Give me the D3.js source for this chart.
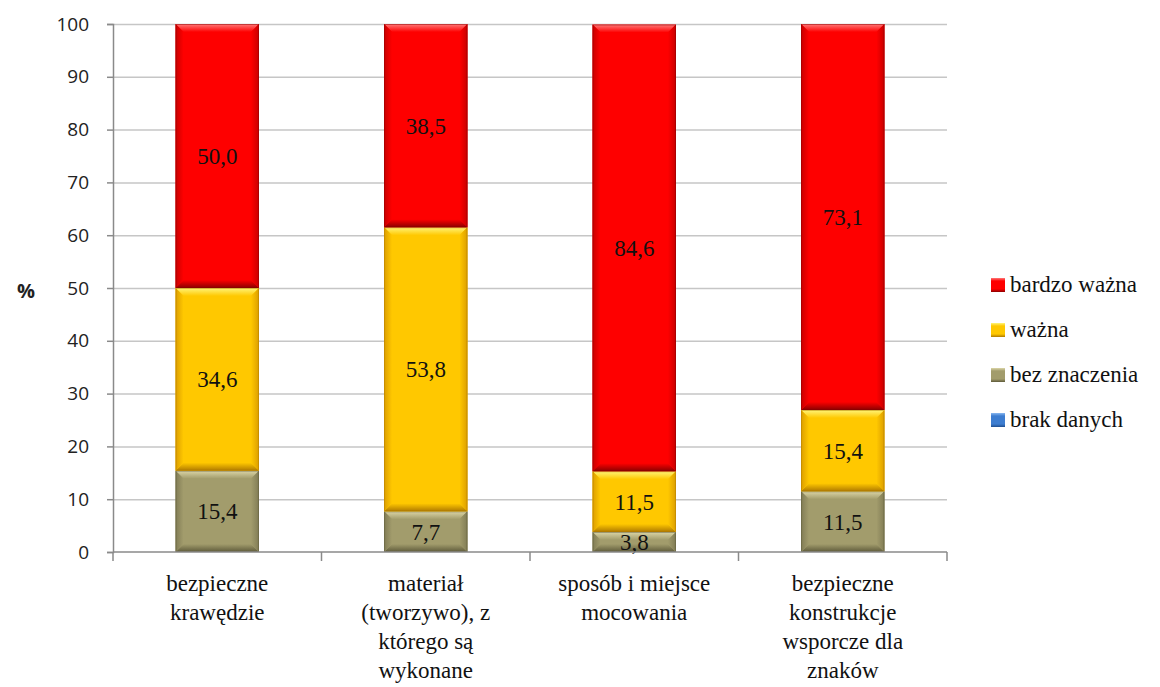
<!DOCTYPE html>
<html>
<head>
<meta charset="utf-8">
<script src="https://cdn.jsdelivr.net/npm/d3@7/dist/d3.min.js"></script>
<style>
  html, body { margin: 0; padding: 0; background: #fff; }
  svg { display: block; }
</style>
</head>
<body>
<svg id="chart" width="1160" height="687"></svg>
<script>
// Categories (label lines) and series values, in %
const categoryLines = [
  ["bezpieczne", "krawędzie"],
  ["materiał", "(tworzywo), z", "którego są", "wykonane"],
  ["sposób i miejsce", "mocowania"],
  ["bezpieczne", "konstrukcje", "wsporcze dla", "znaków"]
];
const seriesNames = ["brak danych", "bez znaczenia", "ważna", "bardzo ważna"];
const brakDanych   = [0, 0, 0, 0];
const bezZnaczenia = [15.4, 7.7, 3.8, 11.5];
const wazna        = [34.6, 53.8, 11.5, 15.4];
const bardzoWazna  = [50.0, 38.5, 84.6, 73.1];
const yTicks = [0, 10, 20, 30, 40, 50, 60, 70, 80, 90, 100];
const legendOrder = ["bardzo ważna", "ważna", "bez znaczenia", "brak danych"];

const seriesValues = [brakDanych, bezZnaczenia, wazna, bardzoWazna];

const SERIF = "'Liberation Serif', 'Times New Roman', serif";
const SANS = "'Open Sans', 'Liberation Sans', sans-serif";

// Colour sets: base, highlight (top bevel), shade (bottom bevel), side bevel
const palette = {
  "bardzo ważna":  { base: "#fe0000", top: "#ff7a7a", bottom: "#8a0000", side: "#c80000" },
  "ważna":         { base: "#ffc800", top: "#fff57a", bottom: "#b07a00", side: "#dc9e00" },
  "bez znaczenia": { base: "#a29c6c", top: "#dcd6a8", bottom: "#5e5a3a", side: "#817c55" },
  "brak danych":   { base: "#3d7dd0", top: "#8ab8f0", bottom: "#1f4f90", side: "#2e64ac" }
};

const svg = d3.select("#chart");
const margin = { left: 113, right: 213, top: 24, bottom: 135 };
const W = 1160, H = 687;
const x0 = margin.left, x1 = W - margin.right, yTop = margin.top, yBot = H - margin.bottom;

const x = d3.scaleBand().domain(d3.range(categoryLines.length)).range([x0, x1]).paddingInner(0.6).paddingOuter(0.3);
const xBand = d3.scaleBand().domain(d3.range(categoryLines.length)).range([x0, x1]);
const y = d3.scaleLinear().domain([0, 100]).range([yBot, yTop]);

// gradients for the bevel edges
const defs = svg.append("defs");
Object.entries(palette).forEach(([name, c], i) => {
  const mk = (id, x1g, y1g, x2g, y2g, from, to) => {
    const g = defs.append("linearGradient").attr("id", id)
      .attr("x1", x1g).attr("y1", y1g).attr("x2", x2g).attr("y2", y2g);
    g.append("stop").attr("offset", "0%").attr("stop-color", from);
    g.append("stop").attr("offset", "100%").attr("stop-color", to);
  };
  mk("gT" + i, 0, 0, 0, 1, c.top, c.base);
  mk("gB" + i, 0, 1, 0, 0, c.bottom, c.base);
  mk("gL" + i, 0, 0, 1, 0, c.side, c.base);
  mk("gR" + i, 1, 0, 0, 0, c.side, c.base);
});
const colorIndex = name => Object.keys(palette).indexOf(name);

// gridlines
svg.append("g").selectAll("line").data(yTicks.filter(t => t > 0)).join("line")
  .attr("x1", x0).attr("x2", x1)
  .attr("y1", d => y(d) + 0.5).attr("y2", d => y(d) + 0.5)
  .attr("stroke", "#c6c6c6").attr("stroke-width", 1.5);

// stacked bars
const table = categoryLines.map((_, i) => {
  const row = {};
  seriesNames.forEach((s, k) => row[s] = seriesValues[k][i]);
  return row;
});
const stack = d3.stack().keys(seriesNames)(table);

const barsG = svg.append("g");
const labelsG = svg.append("g");
stack.forEach(layer => {
  const name = layer.key;
  const ci = colorIndex(name);
  const c = palette[name];
  layer.forEach((seg, i) => {
    const v = seg[1] - seg[0];
    if (v <= 0) return;
    const bx = x(i), bw = x.bandwidth();
    const by = y(seg[1]), bh = y(seg[0]) - y(seg[1]);
    const b = Math.min(8, bh / 2);
    const g = barsG.append("g");
    g.append("rect").attr("x", bx).attr("y", by).attr("width", bw).attr("height", bh).attr("fill", c.base);
    const poly = pts => pts.map(p => p.join(",")).join(" ");
    g.append("polygon").attr("points", poly([[bx, by], [bx + bw, by], [bx + bw - b, by + b], [bx + b, by + b]])).attr("fill", `url(#gT${ci})`);
    g.append("polygon").attr("points", poly([[bx, by + bh], [bx + bw, by + bh], [bx + bw - b, by + bh - b], [bx + b, by + bh - b]])).attr("fill", `url(#gB${ci})`);
    g.append("polygon").attr("points", poly([[bx, by], [bx + b, by + b], [bx + b, by + bh - b], [bx, by + bh]])).attr("fill", `url(#gL${ci})`);
    g.append("polygon").attr("points", poly([[bx + bw, by], [bx + bw - b, by + b], [bx + bw - b, by + bh - b], [bx + bw, by + bh]])).attr("fill", `url(#gR${ci})`);
    g.append("rect").attr("x", bx + 0.5).attr("y", by + 0.5).attr("width", bw - 1).attr("height", bh - 1)
      .attr("fill", "none").attr("stroke", c.bottom).attr("stroke-opacity", 0.5).attr("stroke-width", 1);

    // value label
    labelsG.append("text")
      .attr("x", bx + bw / 2).attr("y", y((seg[0] + seg[1]) / 2))
      .attr("dy", "0.35em").attr("text-anchor", "middle")
      .style("font-family", SERIF).style("font-size", "23px").attr("fill", "#111")
      .text(d3.format(".1f")(v).replace(".", ","));
  });
});

// y axis
const yAxis = d3.axisLeft(y).tickValues(yTicks).tickSize(6).tickPadding(18).tickFormat(d3.format("d"));
const yg = svg.append("g").attr("transform", `translate(${x0},0)`).call(yAxis);
yg.select(".domain").attr("stroke", "#8a8a8a").attr("stroke-width", 1.5);
yg.selectAll(".tick line").attr("stroke", "#8a8a8a").attr("stroke-width", 1.5);
yg.selectAll(".tick text").style("font-family", SANS).style("font-size", "19px").attr("fill", "#222");

// x axis line and category ticks
svg.append("line").attr("x1", x0).attr("x2", x1).attr("y1", yBot).attr("y2", yBot)
  .attr("stroke", "#8a8a8a").attr("stroke-width", 1.5);
const boundaries = d3.range(categoryLines.length + 1).map(i => i < categoryLines.length ? xBand(i) : x1);
svg.append("g").selectAll("line").data(boundaries).join("line")
  .attr("x1", d => d).attr("x2", d => d).attr("y1", yBot).attr("y2", yBot + 9)
  .attr("stroke", "#8a8a8a").attr("stroke-width", 1.5);

// category labels
const catG = svg.append("g");
categoryLines.forEach((lines, i) => {
  const cx = xBand(i) + xBand.bandwidth() / 2;
  lines.forEach((ln, k) => {
    catG.append("text")
      .attr("x", cx).attr("y", 591 + k * 29)
      .attr("text-anchor", "middle")
      .style("font-family", SERIF).style("font-size", "23px")
      .attr("fill", "#111").text(ln);
  });
});

// y axis title
svg.append("text").attr("x", 26).attr("y", 298).attr("text-anchor", "middle")
  .style("font-family", SANS).style("font-size", "20px").style("font-weight", "bold")
  .attr("fill", "#222").text("%");

// legend
const lg = svg.append("g");
legendOrder.forEach((name, k) => {
  const ci = colorIndex(name);
  const cy = 285 + k * 45;
  const c = palette[name];
  lg.append("rect").attr("x", 991).attr("y", cy - 7).attr("width", 14).attr("height", 14).attr("fill", c.base);
  lg.append("rect").attr("x", 991).attr("y", cy - 7).attr("width", 14).attr("height", 3).attr("fill", `url(#gT${ci})`);
  lg.append("rect").attr("x", 991).attr("y", cy + 4).attr("width", 14).attr("height", 3).attr("fill", `url(#gB${ci})`);
  lg.append("text").attr("x", 1010).attr("y", cy + 7)
    .style("font-family", SERIF).style("font-size", "23px").attr("fill", "#111").text(name);
});
</script>
</body>
</html>
